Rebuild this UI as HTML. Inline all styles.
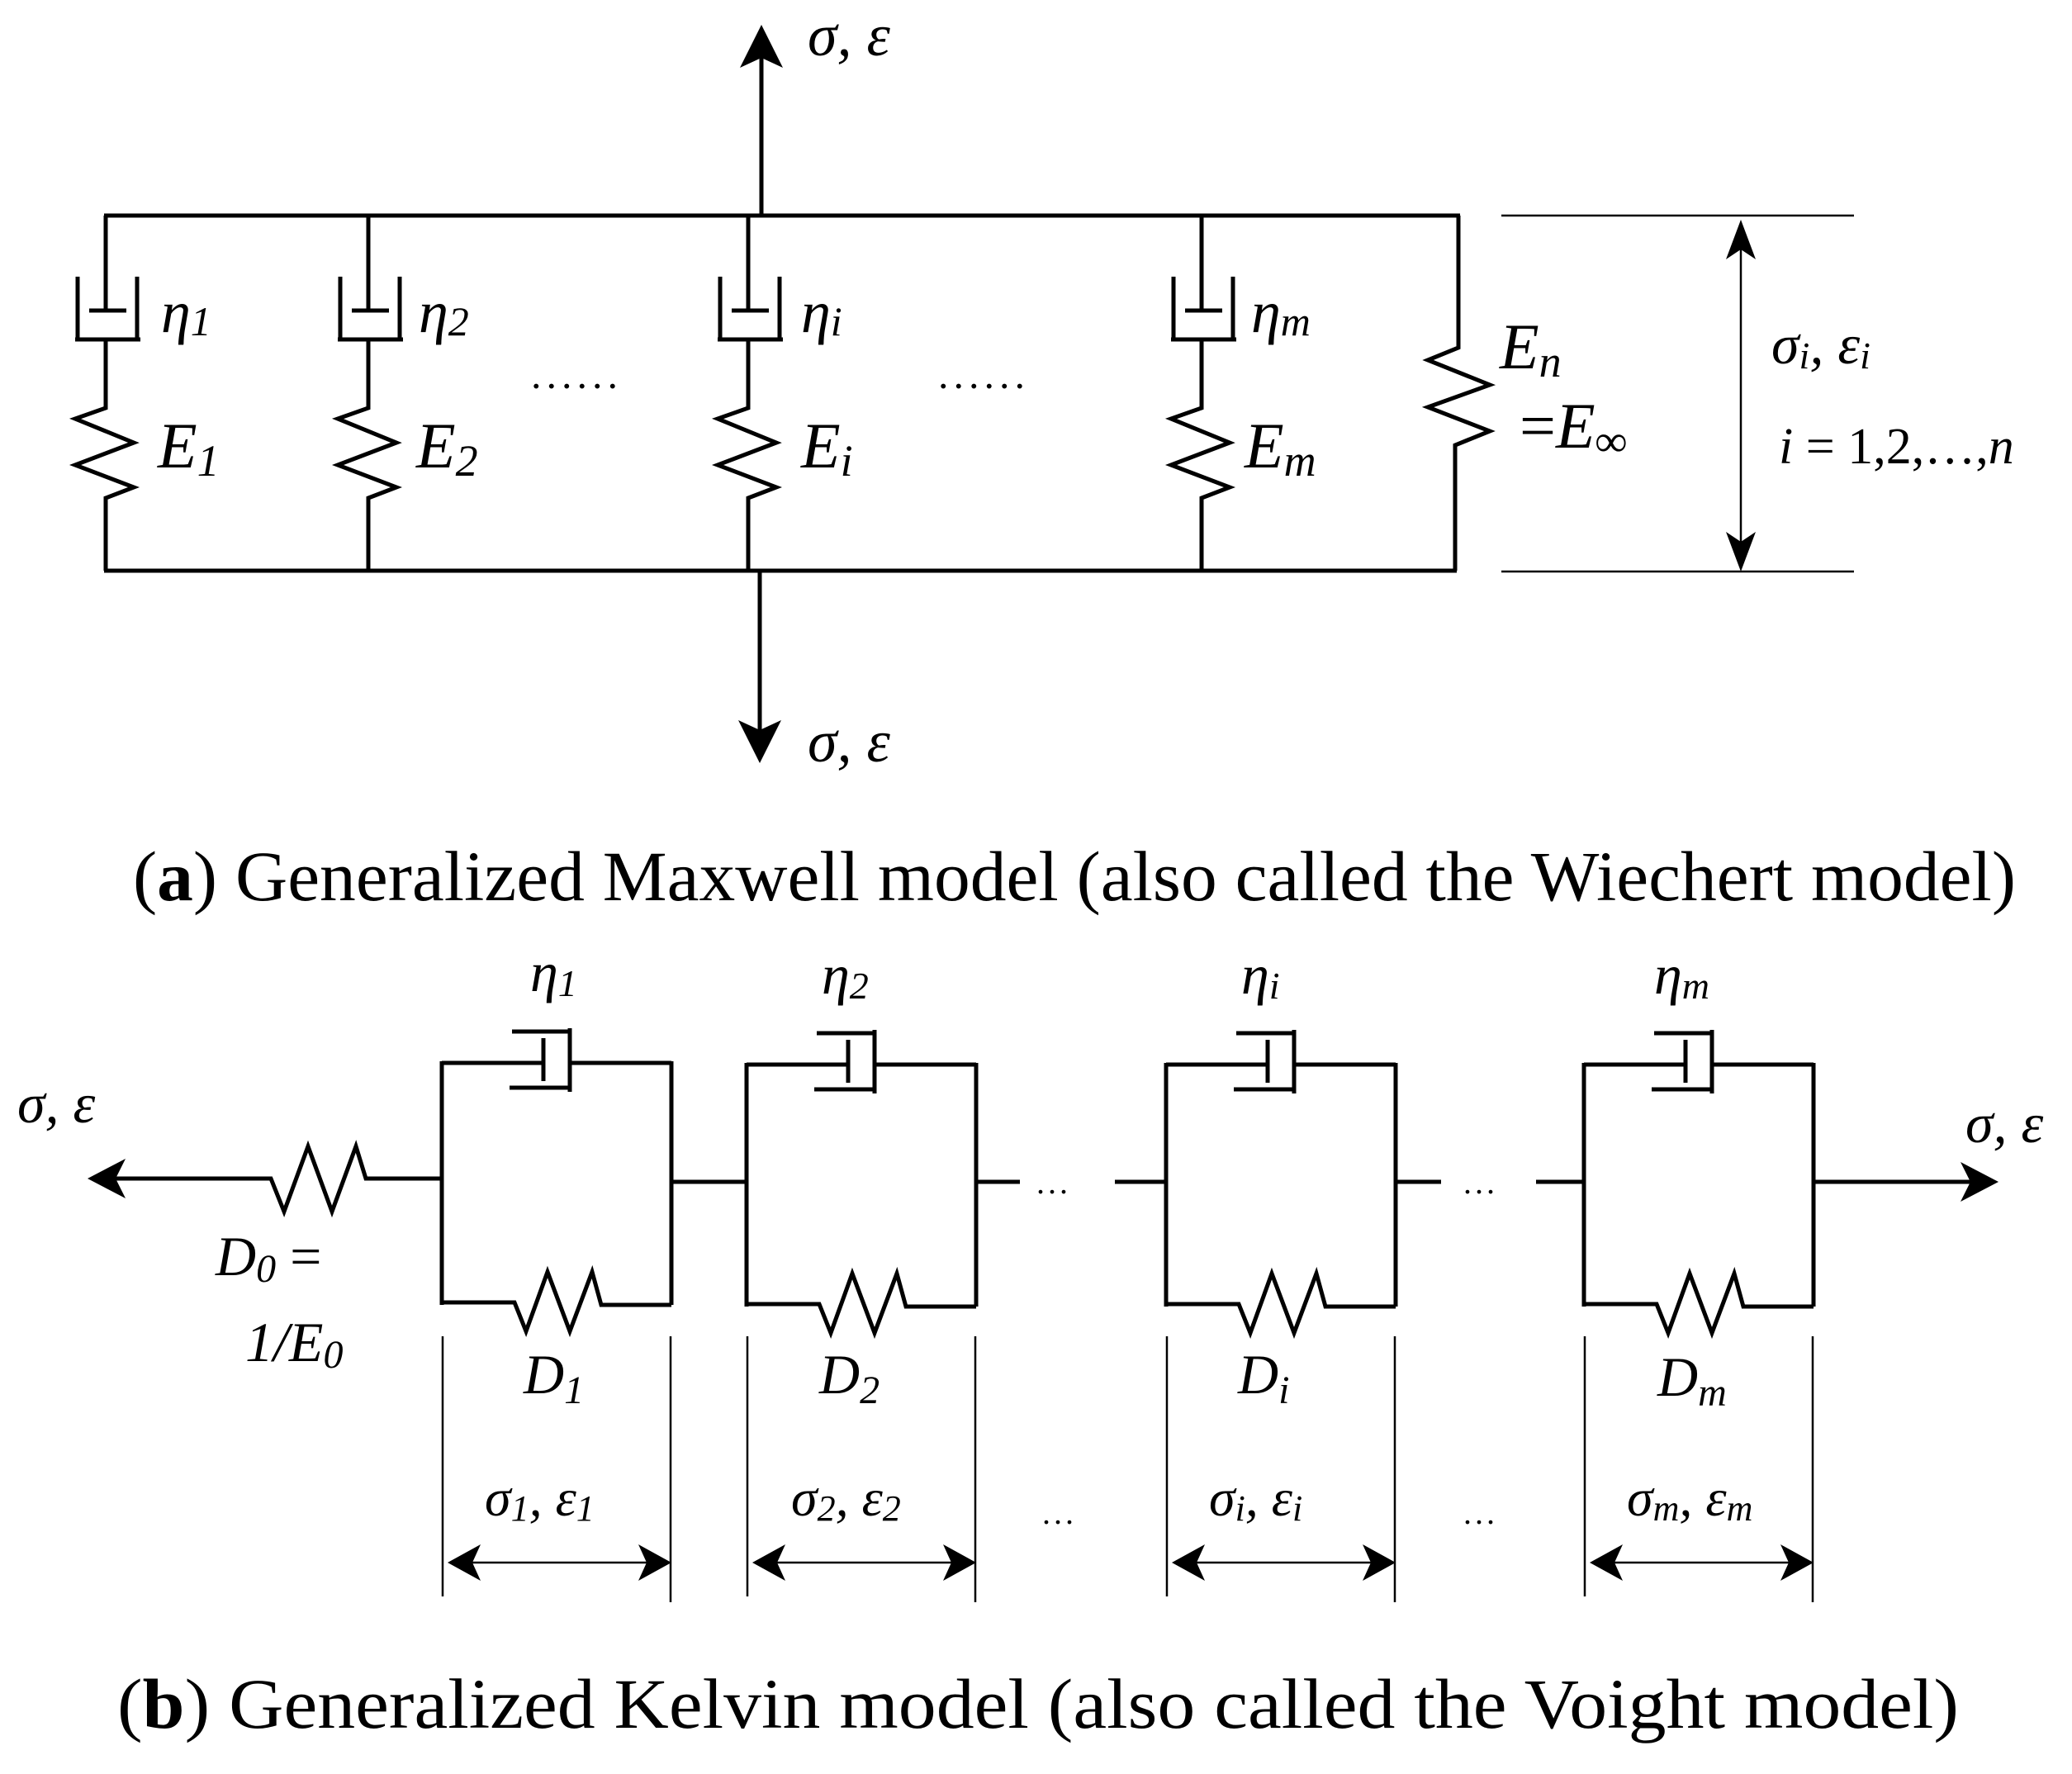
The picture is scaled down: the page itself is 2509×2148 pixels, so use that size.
<!DOCTYPE html>
<html><head><meta charset="utf-8"><style>
html,body{margin:0;padding:0;background:#fff}
svg{display:block}
text{font-family:"Liberation Serif",serif;fill:#000}
.it{font-style:italic}
</style></head><body>
<svg width="2509" height="2148" viewBox="0 0 2509 2148" xmlns="http://www.w3.org/2000/svg">
<defs>
<g id="dpa" fill="none" stroke="#000" stroke-width="5">
<path d="M0,261 V376 M-20,376 H25"/>
<path d="M-34,335 V411 M38,335 V411 M-37,411 H42"/>
<path d="M0,411 V494 L-37,507 L34,536 L-37,563 L34,590 L0,603 V691"/>
</g>
<g id="boxb" fill="none" stroke="#000" stroke-width="5">
<path d="M0,0 V295 M278,0 V295"/>
<path d="M0,2 H123 M123,-28 V24 M85,-36 H155 M82,32 H155 M155,-40 V37 M155,2 H278"/>
<path d="M0,292 H88 L102,327 L128,255 L155,327 L182,255 L193,295 H278"/>
</g>
<g id="dimb" stroke="#000" fill="none">
<path d="M1,333 V648 M277,333 V655" stroke-width="2.5"/>
<path d="M10,607 H270" stroke-width="2.5"/>
<path d="M7,607 L47,585 L37,607 L47,629 Z M278,607 L238,585 L248,607 L238,629 Z" fill="#000" stroke="none"/>
</g>
</defs>

<!-- (a) -->
<g fill="none" stroke="#000" stroke-width="5">
<path d="M126,261 H1768 M126,691 H1764"/>
<path d="M922,261 V60 M920,691 V895"/>
<path d="M1766,261 V421 L1729,436 L1804,466 L1729,493 L1804,522 L1762,539 V691"/>
</g>
<path d="M922,30 L948,82 L922,70 L896,82 Z M920,924 L946,872 L920,884 L894,872 Z" fill="#000"/>
<use href="#dpa" x="128" y="0"/>
<use href="#dpa" x="446" y="0"/>
<use href="#dpa" x="906" y="0"/>
<use href="#dpa" x="1455" y="0"/>
<g stroke="#000" stroke-width="2.5" fill="none">
<path d="M1818,261 H2245 M1818,692 H2245 M2108,280 V675"/>
</g>
<path d="M2108,266 L2126,314 L2108,302 L2090,314 Z M2108,692 L2126,644 L2108,656 L2090,644 Z" fill="#000"/>

<g class="it" font-size="72">
<text x="978" y="67">σ, ε</text>
<text x="978" y="922">σ, ε</text>
<text x="195" y="402">η<tspan font-size="50" dy="4">1</tspan></text>
<text x="507" y="402">η<tspan font-size="50" dy="4">2</tspan></text>
<text x="970" y="402">η<tspan font-size="50" dy="4">i</tspan></text>
<text x="1515" y="402">η<tspan font-size="50" dy="4">m</tspan></text>
<text x="191" y="566" font-size="78">E<tspan font-size="54" dy="10">1</tspan></text>
<text x="504" y="566" font-size="78">E<tspan font-size="54" dy="10">2</tspan></text>
<text x="970" y="566" font-size="78">E<tspan font-size="54" dy="10">i</tspan></text>
<text x="1507" y="566" font-size="78">E<tspan font-size="54" dy="10">m</tspan></text>
<text x="1816" y="446" font-size="78">E<tspan font-size="54" dy="10">n</tspan></text>
<text x="1840" y="542" font-size="78"><tspan font-style="normal">=</tspan>E<tspan font-size="54" dy="10">∞</tspan></text>
<text x="2145" y="440" font-size="68">σ<tspan font-size="46" dy="6">i</tspan><tspan dy="-6">,  ε</tspan><tspan font-size="46" dy="6">i</tspan></text>
<text x="2154" y="561" font-size="62">i <tspan font-style="normal">= 1,2,…,</tspan>n</text>
</g>
<text x="643" y="470" font-size="50" letter-spacing="6">......</text>
<text x="1136" y="470" font-size="50" letter-spacing="6">......</text>

<text x="161" y="1090" font-size="86" textLength="2280" lengthAdjust="spacingAndGlyphs">(<tspan font-weight="bold">a</tspan>) Generalized Maxwell model (also called the Wiechert model)</text>

<!-- (b) -->
<g fill="none" stroke="#000" stroke-width="5">
<path d="M135,1427 H328 L344,1467 L373,1388 L402,1467 L431,1388 L443,1427 H535"/>
<path d="M813,1431 H904 M1182,1431 H1235 M1350,1431 H1412 M1690,1431 H1745 M1860,1431 H1918 M2196,1431 H2390"/>
</g>
<path d="M106,1427 L152,1403 L140,1427 L152,1451 Z M2420,1431 L2374,1407 L2386,1431 L2374,1455 Z" fill="#000"/>
<use href="#boxb" x="535" y="1285"/>
<use href="#boxb" x="904" y="1287"/>
<use href="#boxb" x="1412" y="1287"/>
<use href="#boxb" x="1918" y="1287"/>
<use href="#dimb" x="535" y="1285"/>
<use href="#dimb" x="904" y="1285"/>
<use href="#dimb" x="1412" y="1285"/>
<use href="#dimb" x="1918" y="1285"/>

<text x="1255" y="1445" font-size="40" letter-spacing="4">...</text>
<text x="1772" y="1445" font-size="40" letter-spacing="4">...</text>
<text x="1262" y="1845" font-size="40" letter-spacing="4">...</text>
<text x="1772" y="1845" font-size="40" letter-spacing="4">...</text>

<g class="it" font-size="68">
<text x="21" y="1359">σ, ε</text>
<text x="2380" y="1383">σ, ε</text>
<text x="261" y="1544">D<tspan font-size="48" dy="8">0</tspan><tspan font-style="normal" dy="-8"> =</tspan></text>
<text x="297" y="1648">1/E<tspan font-size="48" dy="8">0</tspan></text>
<text x="642" y="1200">η<tspan font-size="46" dy="6">1</tspan></text>
<text x="995" y="1203">η<tspan font-size="46" dy="6">2</tspan></text>
<text x="1503" y="1203">η<tspan font-size="46" dy="6">i</tspan></text>
<text x="2003" y="1203">η<tspan font-size="46" dy="6">m</tspan></text>
<text x="634" y="1687">D<tspan font-size="48" dy="12">1</tspan></text>
<text x="992" y="1687">D<tspan font-size="48" dy="12">2</tspan></text>
<text x="1499" y="1687">D<tspan font-size="48" dy="12">i</tspan></text>
<text x="2007" y="1690">D<tspan font-size="48" dy="12">m</tspan></text>
<text x="587" y="1835" font-size="64">σ<tspan font-size="44" dy="6">1</tspan><tspan dy="-6">,  ε</tspan><tspan font-size="44" dy="6">1</tspan></text>
<text x="958" y="1835" font-size="64">σ<tspan font-size="44" dy="6">2</tspan><tspan dy="-6">,  ε</tspan><tspan font-size="44" dy="6">2</tspan></text>
<text x="1464" y="1835" font-size="64">σ<tspan font-size="44" dy="6">i</tspan><tspan dy="-6">,  ε</tspan><tspan font-size="44" dy="6">i</tspan></text>
<text x="1970" y="1835" font-size="64">σ<tspan font-size="44" dy="6">m</tspan><tspan dy="-6">, ε</tspan><tspan font-size="44" dy="6">m</tspan></text>
</g>

<text x="142" y="2092" font-size="86" textLength="2230" lengthAdjust="spacingAndGlyphs">(<tspan font-weight="bold">b</tspan>) Generalized Kelvin model (also called the Voight model)</text>
</svg>
</body></html>
